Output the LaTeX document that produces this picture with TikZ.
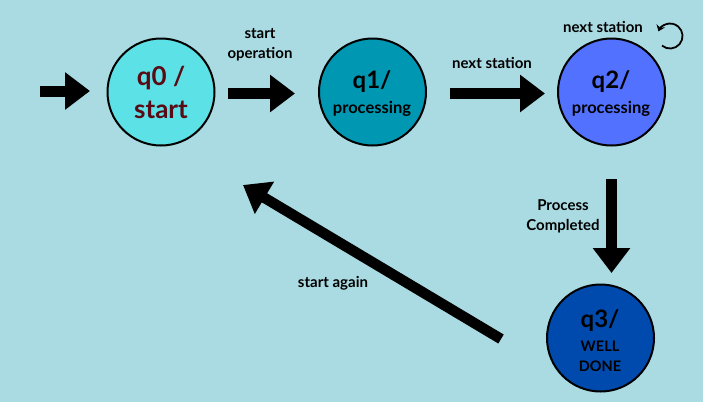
\documentclass[tikz,border=0pt]{standalone}
\usepackage{fontspec}
\setmainfont{Lato}
\usetikzlibrary{arrows.meta}
\definecolor{bg}{RGB}{170,219,226}
\definecolor{cq0}{RGB}{92,225,230}
\definecolor{cq1}{RGB}{0,151,178}
\definecolor{cq2}{RGB}{82,113,255}
\definecolor{cq3}{RGB}{0,74,173}
\definecolor{maroon}{RGB}{90,10,20}
\begin{document}
\begin{tikzpicture}[x=1pt,y=-1pt,
  state/.style={circle, draw=black, line width=2pt, minimum size=107pt, inner sep=0pt},
  big/.style={font=\bfseries\fontsize{24}{24}\selectfont, inner sep=0pt},
  small/.style={font=\bfseries\fontsize{16.5}{16.5}\selectfont, inner sep=0pt},
  lbl/.style={font=\bfseries\fontsize{15}{20}\selectfont, align=center, inner sep=0pt},
  blk/.style={line width=11pt, -{Triangle[width=36pt,length=25pt]}},
  loopar/.style={line width=1.8pt, -{Stealth[length=6pt,width=9pt]}}]
\fill[bg] (0,0) rectangle (703,402);
\useasboundingbox (0,0) rectangle (703,402);

% states
\node[state, fill=cq0] (q0) at (161,92) {};
\node[state, fill=cq1] (q1) at (372.5,92) {};
\node[state, fill=cq2] (q2) at (611.5,92) {};
\node[state, fill=cq3] (q3) at (600.5,338) {};

% state texts
\node[big, text=maroon, font=\bfseries\fontsize{26}{26}\selectfont] (q0a) at (161,78) {q0 /};
\node[big, text=maroon, font=\bfseries\fontsize{26}{26}\selectfont] (q0b) at (161,110) {start};
\node[big] (q1a) at (372,82) {q1/};
\node[small] (q1b) at (372,109) {processing};
\node[big] (q2a) at (611,82) {q2/};
\node[small] (q2b) at (611,109) {processing};
\node[big] (q3a) at (600,321) {q3/};
\node[small, font=\bfseries\fontsize{14.5}{14.5}\selectfont] (q3b) at (600,346) {WELL};
\node[small, font=\bfseries\fontsize{14.5}{14.5}\selectfont] (q3c) at (600,366) {DONE};

% arrow end points
\coordinate (in0) at (40,91);
\coordinate (in1) at (90,91);
\coordinate (a01s) at (228,93.5);
\coordinate (a01e) at (295,93.5);
\coordinate (a12s) at (450,93.5);
\coordinate (a12e) at (545,93.5);
\coordinate (a23s) at (611.5,179);
\coordinate (a23e) at (611.5,273);
\coordinate (a30s) at (501,339);
\coordinate (a30e) at (243,185);
\coordinate (ls) at (662,45.6);

\draw[blk] (in0) -- (in1);
\draw[blk] (a01s) -- (a01e);
\draw[blk] (a12s) -- (a12e);
\draw[blk] (a23s) -- (a23e);
\draw[blk, line width=10.5pt] (a30s) -- (a30e);
\draw[loopar] (ls) arc[start angle=130, end angle=-158, radius=12.5];

% labels
\node[lbl] (l01) at (260,45) {start\\operation};
\node[lbl] (l12) at (492,63) {next station};
\node[lbl] (l22) at (603,27) {next station};
\node[lbl] (l23) at (563,216) {Process\\Completed};
\node[lbl] (l30) at (333,283) {start again};
\end{tikzpicture}
\end{document}
